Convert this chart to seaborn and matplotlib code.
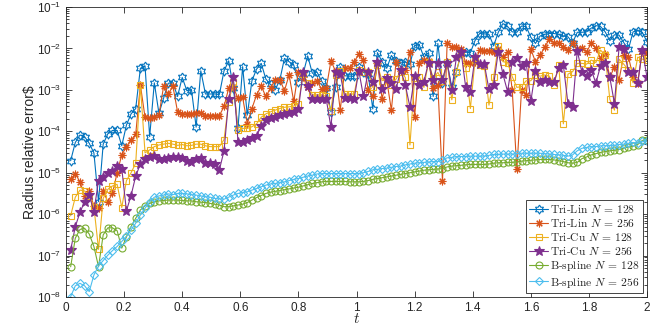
import numpy as np
import pandas as pd
import matplotlib
matplotlib.use('Agg')
import matplotlib.pyplot as plt
import seaborn as sns
from matplotlib.ticker import (LogLocator, FuncFormatter, NullFormatter,
                               FixedLocator, LogFormatterSciNotation)

# time samples (dt = 0.016, 125 steps up to t = 2)
t = np.arange(1, 126) * 0.016

# y-axis decades shown
y_decades = [1e-8, 1e-7, 1e-6, 1e-5, 1e-4, 1e-3, 1e-2, 1e-1]

# errors, stored as log10 values
tri_lin_128_log10 = [
    -4.71, -4.27, -4.09, -4.13, -4.29, -4.52, -5.70, -4.31, -4.06, -3.98,
    -3.98, -4.35, -3.85, -3.58, -3.45, -2.48, -2.42, -4.13, -2.83, -3.57,
    -3.20, -2.84, -2.83, -3.16, -2.70, -3.02, -3.00, -3.90, -2.54, -3.10,
    -3.10, -3.10, -3.11, -2.54, -2.30, -2.95, -3.93, -2.44, -3.61, -2.78,
    -2.50, -2.36, -2.74, -2.87, -3.00, -2.76, -2.24, -2.32, -2.40, -2.80,
    -2.62, -2.18, -2.60, -2.57, -2.79, -2.96, -3.53, -2.94, -2.44, -2.66,
    -2.67, -2.67, -2.46, -2.58, -2.62, -3.46, -2.10, -2.32, -2.48, -2.17,
    -2.31, -2.35, -2.33, -2.38, -1.93, -1.91, -2.21, -2.10, -3.16, -1.88,
    -2.83, -2.34, -2.94, -2.56, -2.12, -2.09, -2.10, -1.81, -1.64, -1.65,
    -1.66, -1.94, -1.61, -1.40, -1.47, -1.60, -1.61, -1.46, -1.47, -1.73,
    -1.88, -1.70, -1.66, -1.64, -1.64, -1.66, -1.70, -1.72, -1.86, -1.61,
    -1.61, -1.60, -1.51, -1.45, -1.47, -1.60, -1.81, -1.67, -1.68, -1.86,
    -2.02, -1.60, -1.57, -1.61, -1.84,
]
tri_lin_256_log10 = [
    -5.16, -5.02, -5.22, -5.55, -5.45, -5.80, -5.85, -5.45, -5.70, -5.50,
    -5.00, -4.57, -4.37, -4.21, -4.07, -2.88, -3.66, -3.69, -3.65, -3.61,
    -2.91, -3.10, -2.91, -3.53, -3.58, -3.58, -3.58, -3.55, -3.55, -3.62,
    -3.62, -3.62, -3.62, -3.40, -2.96, -2.94, -3.20, -3.18, -3.82, -3.45,
    -3.12, -2.91, -3.16, -2.96, -2.76, -2.75, -3.02, -2.64, -3.28, -2.56,
    -2.70, -2.94, -2.84, -2.78, -2.99, -2.96, -2.30, -2.55, -3.49, -2.48,
    -2.48, -2.32, -2.14, -2.29, -3.00, -3.16, -2.36, -3.21, -2.76, -3.49,
    -2.33, -2.54, -2.53, -2.09, -3.66, -2.34, -2.29, -2.30, -2.95, -2.89,
    -5.19, -1.86, -1.97, -1.97, -2.02, -2.34, -2.34, -2.32, -2.04, -2.05,
    -2.05, -2.08, -2.02, -2.21, -2.08, -3.00, -4.92, -3.00, -3.12, -2.02,
    -2.32, -2.17, -1.96, -1.78, -1.86, -1.88, -1.97, -2.04, -1.88, -2.02,
    -2.00, -2.08, -1.88, -2.00, -2.24, -2.13, -2.70, -2.44, -2.75, -2.16,
    -2.20, -2.68, -2.84, -2.05, -2.12,
]
tri_cu_128_log10 = [
    -6.04, -5.59, -5.42, -5.44, -5.56, -5.82, -6.85, -5.62, -5.40, -5.32,
    -5.28, -5.84, -5.19, -5.00, -4.77, -2.88, -4.52, -4.45, -4.37, -4.33,
    -4.31, -4.29, -4.31, -4.34, -4.32, -4.35, -4.34, -4.31, -4.31, -4.35,
    -4.37, -4.37, -4.37, -4.20, -3.30, -2.80, -3.98, -3.93, -3.93, -3.89,
    -3.82, -3.66, -3.58, -3.53, -3.49, -3.45, -3.42, -3.41, -3.39, -3.34,
    -2.62, -2.84, -3.12, -3.12, -3.12, -3.16, -3.50, -2.64, -2.54, -3.10,
    -3.10, -3.10, -2.52, -2.56, -2.56, -2.94, -2.40, -2.78, -2.68, -2.88,
    -2.74, -2.56, -2.70, -4.33, -2.72, -2.68, -2.94, -2.32, -2.72, -2.58,
    -2.78, -2.32, -3.24, -2.56, -2.12, -2.48, -3.45, -2.28, -2.41, -2.42,
    -3.37, -2.70, -1.94, -2.32, -2.34, -2.68, -2.94, -2.92, -2.78, -2.78,
    -2.64, -2.67, -2.64, -2.67, -2.88, -2.40, -3.82, -2.62, -2.56, -2.36,
    -2.36, -2.38, -2.28, -2.34, -2.04, -2.16, -3.23, -3.49, -2.26, -2.38,
    -2.52, -2.83, -2.21, -2.26, -2.28,
]
tri_cu_256_log10 = [
    -6.87, -6.30, -5.96, -5.70, -5.54, -5.94, -5.19, -5.11, -5.01, -4.95,
    -4.84, -4.90, -5.92, -5.55, -5.08, -4.79, -4.68, -4.61, -4.60, -4.68,
    -4.68, -4.65, -4.61, -4.61, -4.65, -4.71, -4.73, -4.68, -4.65, -4.77,
    -4.77, -4.79, -4.93, -4.47, -3.23, -2.68, -4.25, -4.25, -4.21, -4.15,
    -4.11, -3.87, -3.73, -3.69, -3.65, -3.61, -3.58, -3.57, -3.53, -3.47,
    -2.58, -2.91, -3.23, -3.23, -3.23, -3.23, -3.90, -2.58, -2.62, -3.20,
    -3.20, -3.21, -2.54, -3.16, -2.56, -2.80, -2.33, -2.99, -2.72, -2.84,
    -2.99, -2.52, -2.88, -3.42, -2.67, -2.88, -2.80, -2.34, -2.76, -2.36,
    -2.76, -2.34, -3.00, -2.21, -2.08, -2.94, -3.04, -2.21, -2.38, -2.38,
    -2.99, -2.88, -2.08, -2.62, -3.04, -2.32, -2.24, -2.42, -2.34, -3.28,
    -2.54, -2.80, -2.76, -2.80, -2.80, -2.48, -2.40, -3.34, -3.42, -2.05,
    -2.58, -2.67, -2.51, -2.84, -2.42, -2.34, -2.70, -3.33, -1.96, -2.02,
    -2.56, -2.58, -2.84, -2.04, -2.70,
]
bspline_128_log10 = [
    -7.27, -6.58, -6.37, -6.34, -6.48, -6.78, -7.27, -6.50, -6.33, -6.33,
    -6.40, -6.82, -6.55, -6.30, -6.10, -5.90, -5.80, -5.74, -5.70, -5.68,
    -5.67, -5.66, -5.66, -5.66, -5.67, -5.68, -5.68, -5.70, -5.71, -5.72,
    -5.74, -5.76, -5.78, -5.82, -5.82, -5.80, -5.78, -5.76, -5.72, -5.66,
    -5.60, -5.55, -5.50, -5.47, -5.45, -5.43, -5.41, -5.39, -5.37, -5.35,
    -5.32, -5.29, -5.26, -5.24, -5.22, -5.21, -5.21, -5.21, -5.21, -5.21,
    -5.22, -5.22, -5.22, -5.21, -5.19, -5.16, -5.14, -5.12, -5.10, -5.08,
    -5.06, -5.04, -5.02, -5.00, -4.98, -4.96, -4.94, -4.93, -4.92, -4.91,
    -4.90, -4.86, -4.84, -4.83, -4.82, -4.81, -4.80, -4.80, -4.80, -4.80,
    -4.79, -4.77, -4.76, -4.76, -4.75, -4.75, -4.74, -4.72, -4.71, -4.70,
    -4.69, -4.68, -4.68, -4.68, -4.69, -4.71, -4.73, -4.76, -4.77, -4.75,
    -4.66, -4.62, -4.57, -4.54, -4.51, -4.49, -4.47, -4.46, -4.44, -4.41,
    -4.38, -4.36, -4.32, -4.22, -4.20,
]
bspline_256_log10 = [
    -7.99, -7.73, -7.67, -7.73, -7.87, -7.47, -7.25, -7.12, -6.99, -6.88,
    -6.78, -6.66, -6.53, -6.38, -6.22, -6.02, -5.86, -5.70, -5.59, -5.56,
    -5.54, -5.51, -5.53, -5.50, -5.50, -5.51, -5.53, -5.54, -5.56, -5.58,
    -5.59, -5.62, -5.63, -5.64, -5.59, -5.54, -5.50, -5.48, -5.46, -5.42,
    -5.38, -5.34, -5.30, -5.27, -5.26, -5.24, -5.22, -5.19, -5.16, -5.14,
    -5.11, -5.08, -5.06, -5.03, -5.02, -5.02, -5.02, -5.02, -5.02, -5.02,
    -5.02, -5.02, -5.02, -5.00, -4.97, -4.93, -4.92, -4.90, -4.89, -4.87,
    -4.85, -4.84, -4.81, -4.79, -4.77, -4.76, -4.75, -4.74, -4.73, -4.73,
    -4.70, -4.64, -4.63, -4.61, -4.61, -4.61, -4.60, -4.60, -4.60, -4.60,
    -4.58, -4.56, -4.56, -4.55, -4.55, -4.55, -4.54, -4.53, -4.53, -4.53,
    -4.53, -4.53, -4.54, -4.55, -4.56, -4.57, -4.58, -4.60, -4.57, -4.47,
    -4.41, -4.39, -4.37, -4.37, -4.35, -4.35, -4.34, -4.34, -4.32, -4.31,
    -4.29, -4.27, -4.29, -4.24, -4.23,
]

labels = [
    'Tri-Lin $N$ = 128', 'Tri-Lin $N$ = 256',
    'Tri-Cu $N$ = 128', 'Tri-Cu $N$ = 256',
    'B-spline $N$ = 128', 'B-spline $N$ = 256',
]
series = [tri_lin_128_log10, tri_lin_256_log10, tri_cu_128_log10,
          tri_cu_256_log10, bspline_128_log10, bspline_256_log10]

# six-pointed star (MATLAB hexagram)
ang = np.pi / 2 + np.arange(13) * np.pi / 6
rad = np.where(np.arange(13) % 2 == 0, 1.0, 1 / np.sqrt(3))
hexagram = list(zip(rad * np.cos(ang), rad * np.sin(ang)))

styles = [
    dict(color='#0072BD', marker=hexagram, markersize=6.5, markerfacecolor='none'),
    dict(color='#D95319', marker=(8, 2, 0), markersize=5.5, markerfacecolor='#D95319'),
    dict(color='#EDB120', marker='s', markersize=4.5, markerfacecolor='none'),
    dict(color='#7E2F8E', marker='*', markersize=7, markerfacecolor='#7E2F8E'),
    dict(color='#77AC30', marker='o', markersize=5, markerfacecolor='none'),
    dict(color='#4DBEEE', marker='D', markersize=4.2, markerfacecolor='none'),
]

rows = []
for lab, vals in zip(labels, series):
    rows.append(pd.DataFrame({'t': t, 'err': 10.0 ** np.array(vals), 'method': lab}))
df = pd.concat(rows, ignore_index=True)

sns.set_style('ticks')
plt.rcParams['font.family'] = ['Liberation Sans', 'DejaVu Sans']
plt.rcParams['mathtext.fontset'] = 'cm'

fig = plt.figure(figsize=(6.64, 3.32), dpi=100)
ax = fig.add_axes([0.0994, 0.1054, 0.875, 0.8735])

for lab, st in zip(labels, styles):
    sub = df[df['method'] == lab]
    sns.lineplot(data=sub, x='t', y='err', ax=ax, label=lab,
                 linewidth=0.8, markeredgewidth=0.8,
                 markeredgecolor=st['color'], **st)

ax.set_yscale('log')
ax.set_xlim(0, 2)
ax.set_ylim(y_decades[0], y_decades[-1])
ax.set_xticks(np.arange(0, 2.01, 0.2))
ax.xaxis.set_major_formatter(FuncFormatter(lambda v, p: f'{v:g}'))
ax.yaxis.set_major_locator(FixedLocator(y_decades))
ax.yaxis.set_major_formatter(LogFormatterSciNotation())
minor = [m * d for d in y_decades[:-1] for m in range(2, 10)]
ax.yaxis.set_minor_locator(FixedLocator(minor))
ax.yaxis.set_minor_formatter(NullFormatter())
ax.xaxis.get_offset_text().set_visible(False)
ax.yaxis.get_offset_text().set_visible(False)

edge = '#262626'
for sp in ax.spines.values():
    sp.set_visible(True)
    sp.set_color(edge)
    sp.set_linewidth(0.6)
ax.tick_params(which='both', direction='in', top=True, right=True,
               colors=edge, labelsize=8.5, width=0.6)
ax.tick_params(which='major', length=4)
ax.tick_params(which='minor', length=2)

ax.set_xlabel('$t$', fontsize=11, labelpad=-1, color=edge)
ax.set_ylabel('Radius relative error\\$', fontsize=10, labelpad=0, color=edge)

leg = ax.legend(loc='lower right', frameon=True, fancybox=False,
                framealpha=1, edgecolor=edge, borderaxespad=0.35,
                handlelength=1.6, handletextpad=0.2, labelspacing=0.18,
                borderpad=0.3, prop={'family': 'cmr10', 'size': 8.3})
leg.get_frame().set_linewidth(0.6)

fig.savefig('out.png', dpi=100)
